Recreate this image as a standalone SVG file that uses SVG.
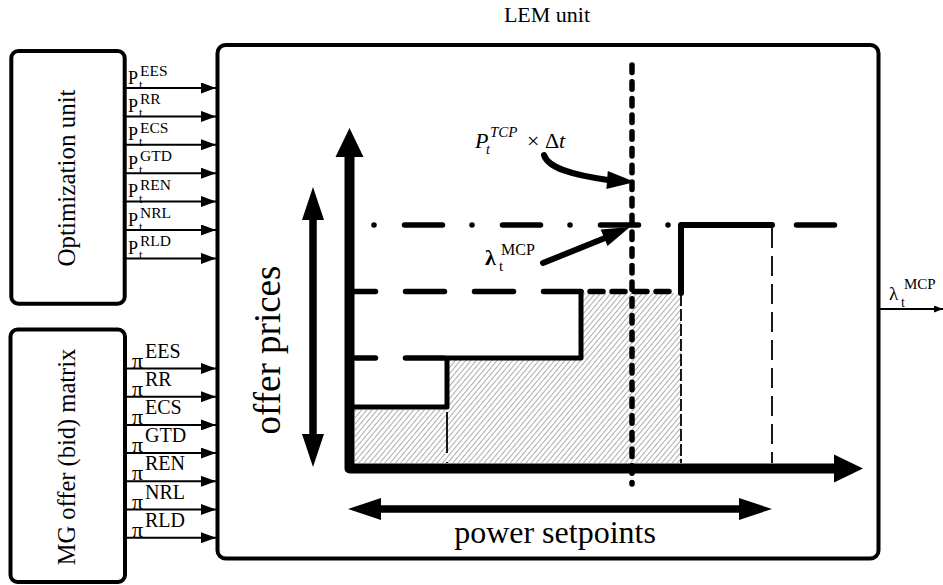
<svg xmlns="http://www.w3.org/2000/svg" width="943" height="585" viewBox="0 0 943 585">
<style>
text { font-family: "Liberation Serif", "Times New Roman", serif; fill: #000; }
.box { fill: #fff; stroke: #000; stroke-width: 4; }
.feed { stroke: #000; stroke-width: 2; fill: none; }
.big { font-size: 32px; }
.p { font-size: 18px; }
.psup { font-size: 15.5px; }
.psub { font-size: 12.5px; }
.pi { font-size: 22px; }
.pisup { font-size: 20px; }
.thick { stroke: #000; fill: none; stroke-linecap: round; stroke-linejoin: round; }
.head { fill: #000; stroke: none; }
</style>
<defs>
<marker id="ah" markerWidth="15" markerHeight="11" refX="15" refY="5.5" orient="auto" markerUnits="userSpaceOnUse"><path d="M0,0 L15,5.5 L0,11 Z" fill="#000"/></marker>
<marker id="ahs" markerWidth="9" markerHeight="7" refX="9" refY="3.5" orient="auto" markerUnits="userSpaceOnUse"><path d="M0,0 L9,3.5 L0,7 Z" fill="#000"/></marker>
<pattern id="hatch" width="4" height="4" patternUnits="userSpaceOnUse" patternTransform="rotate(40)"><line x1="0" y1="0" x2="0" y2="4" stroke="#4a4a4a" stroke-width="0.9"/></pattern>
</defs>
<rect width="943" height="585" fill="#fff"/>

<text x="547" y="22" text-anchor="middle" font-size="22">LEM unit</text>

<g id="lem-unit">
<rect class="box" x="217.5" y="45" width="661" height="513.5" rx="8"/>
</g>

<g id="optimization-unit">
<rect class="box" x="11.3" y="51" width="113.4" height="252.7" rx="7"/>
<text transform="translate(75,178) rotate(-90)" text-anchor="middle" font-size="25">Optimization unit</text>
</g>

<g id="mg-offer-matrix">
<rect class="box" x="10.5" y="329.5" width="114.5" height="252.5" rx="7"/>
<text transform="translate(75,457) rotate(-90)" text-anchor="middle" font-size="24.5">MG offer (bid) matrix</text>
</g>

<g id="connectors">
<line class="feed" x1="126" y1="88" x2="216" y2="88" marker-end="url(#ah)"/>
<line class="feed" x1="126" y1="116.4" x2="216" y2="116.4" marker-end="url(#ah)"/>
<line class="feed" x1="126" y1="144.8" x2="216" y2="144.8" marker-end="url(#ah)"/>
<line class="feed" x1="126" y1="173.2" x2="216" y2="173.2" marker-end="url(#ah)"/>
<line class="feed" x1="126" y1="201.6" x2="216" y2="201.6" marker-end="url(#ah)"/>
<line class="feed" x1="126" y1="230" x2="216" y2="230" marker-end="url(#ah)"/>
<line class="feed" x1="126" y1="258.4" x2="216" y2="258.4" marker-end="url(#ah)"/>

<line class="feed" x1="126" y1="368.5" x2="216" y2="368.5" marker-end="url(#ah)"/>
<line class="feed" x1="126" y1="396.7" x2="216" y2="396.7" marker-end="url(#ah)"/>
<line class="feed" x1="126" y1="424.9" x2="216" y2="424.9" marker-end="url(#ah)"/>
<line class="feed" x1="126" y1="453.1" x2="216" y2="453.1" marker-end="url(#ah)"/>
<line class="feed" x1="126" y1="481.3" x2="216" y2="481.3" marker-end="url(#ah)"/>
<line class="feed" x1="126" y1="509.5" x2="216" y2="509.5" marker-end="url(#ah)"/>
<line class="feed" x1="126" y1="537.7" x2="216" y2="537.7" marker-end="url(#ah)"/>

<line class="feed" x1="880" y1="309" x2="943" y2="309" marker-end="url(#ahs)"/>
</g>

<g id="input-labels">
<text class="p" x="128" y="83.5">P<tspan class="psub" x="139" dy="5.5">t</tspan><tspan class="psup" x="140" dy="-13">EES</tspan></text>
<text class="p" x="128" y="111.9">P<tspan class="psub" x="139" dy="5.5">t</tspan><tspan class="psup" x="140" dy="-13">RR</tspan></text>
<text class="p" x="128" y="140.3">P<tspan class="psub" x="139" dy="5.5">t</tspan><tspan class="psup" x="140" dy="-13">ECS</tspan></text>
<text class="p" x="128" y="168.7">P<tspan class="psub" x="139" dy="5.5">t</tspan><tspan class="psup" x="140" dy="-13">GTD</tspan></text>
<text class="p" x="128" y="197.1">P<tspan class="psub" x="139" dy="5.5">t</tspan><tspan class="psup" x="140" dy="-13">REN</tspan></text>
<text class="p" x="128" y="225.5">P<tspan class="psub" x="139" dy="5.5">t</tspan><tspan class="psup" x="140" dy="-13">NRL</tspan></text>
<text class="p" x="128" y="253.9">P<tspan class="psub" x="139" dy="5.5">t</tspan><tspan class="psup" x="140" dy="-13">RLD</tspan></text>

<text class="pi" x="132" y="367.5">π<tspan class="pisup" x="145" dy="-10">EES</tspan></text>
<text class="pi" x="132" y="395.7">π<tspan class="pisup" x="145" dy="-10">RR</tspan></text>
<text class="pi" x="132" y="423.9">π<tspan class="pisup" x="145" dy="-10">ECS</tspan></text>
<text class="pi" x="132" y="452.1">π<tspan class="pisup" x="145" dy="-10">GTD</tspan></text>
<text class="pi" x="132" y="480.3">π<tspan class="pisup" x="145" dy="-10">REN</tspan></text>
<text class="pi" x="132" y="508.5">π<tspan class="pisup" x="145" dy="-10">NRL</tspan></text>
<text class="pi" x="132" y="536.7">π<tspan class="pisup" x="145" dy="-10">RLD</tspan></text>

<text x="889" y="300" font-size="19">λ<tspan x="901" dy="7" font-size="14">t</tspan><tspan x="904" dy="-18" font-size="15">MCP</tspan></text>
</g>

<g id="chart">
<path d="M355,410 L447,410 L447,360 L581,360 L581,293 L681,293 L681,463 L355,463 Z" fill="url(#hatch)"/>

<path class="thick" d="M355,358 L447,358" stroke-width="5.5" stroke-dasharray="39 30" stroke-dashoffset="18.5"/>
<path class="thick" d="M355,291.5 L581,291.5" stroke-width="5.5" stroke-dasharray="39 30" stroke-dashoffset="18.5"/>
<path class="thick" d="M590,291.5 L678,291.5" stroke-width="5.5" stroke-dasharray="13 9"/>
<path class="thick" d="M374,225 L838,225" stroke-width="5.5" stroke-dasharray="0 30.5 38 29.5"/>

<line x1="447" y1="412" x2="447" y2="463" stroke="#000" stroke-width="1.8" stroke-dasharray="41 9"/>
<line x1="681" y1="294" x2="681" y2="463" stroke="#000" stroke-width="1.8" stroke-dasharray="12 3"/>
<line x1="772" y1="228" x2="772" y2="463" stroke="#000" stroke-width="1.8" stroke-dasharray="20 8"/>

<path class="thick" d="M354,407 L447,407 L447,358 L581,358 L581,291.5" stroke-width="5"/>
<path class="thick" d="M681,293 L681,225 L772,225" stroke-width="6"/>

<line class="thick" x1="632" y1="65" x2="632" y2="484" stroke-width="5.5" stroke-dasharray="7.5 9.2"/>

<path class="thick" d="M349.5,156 L349.5,468.5 L836,468.5" stroke-width="10"/>
<polygon class="head" points="349.5,128 335.5,157 363.5,157"/>
<polygon class="head" points="863,468.5 834,454.5 834,482.5"/>

<line class="thick" x1="313" y1="218" x2="313" y2="436" stroke-width="7.5" stroke-linecap="butt"/>
<polygon class="head" points="313,187 302,220 324,220"/>
<polygon class="head" points="313,467 302,434 324,434"/>

<line class="thick" x1="380" y1="509" x2="740" y2="509" stroke-width="7.5" stroke-linecap="butt"/>
<polygon class="head" points="348,509 381,498 381,520"/>
<polygon class="head" points="772,509 739,498 739,520"/>

<path class="thick" d="M544,155 C548,168 572,175 608,180" stroke-width="6"/>
<polygon class="head" points="635,182 606.4,189 607.8,171"/>
<line class="thick" x1="543" y1="263" x2="605" y2="238" stroke-width="6"/>
<polygon class="head" points="630,227 607.5,246 600.7,229.4"/>

<text transform="translate(280,350) rotate(-90)" text-anchor="middle" font-size="37">offer prices</text>
<text x="555" y="543" text-anchor="middle" class="big">power setpoints</text>

<text x="475" y="148" font-size="22" font-style="italic">P<tspan x="486" dy="6" font-size="14">t</tspan><tspan x="490" dy="-17" font-size="15">TCP</tspan><tspan x="527" dy="11" font-style="normal">× Δ</tspan><tspan>t</tspan></text>

<text x="485" y="265" font-size="22" font-weight="bold">λ<tspan x="499" dy="6" font-size="15" font-weight="normal">t</tspan><tspan x="501" dy="-16" font-size="16" font-weight="normal">MCP</tspan></text>
</g>
</svg>
